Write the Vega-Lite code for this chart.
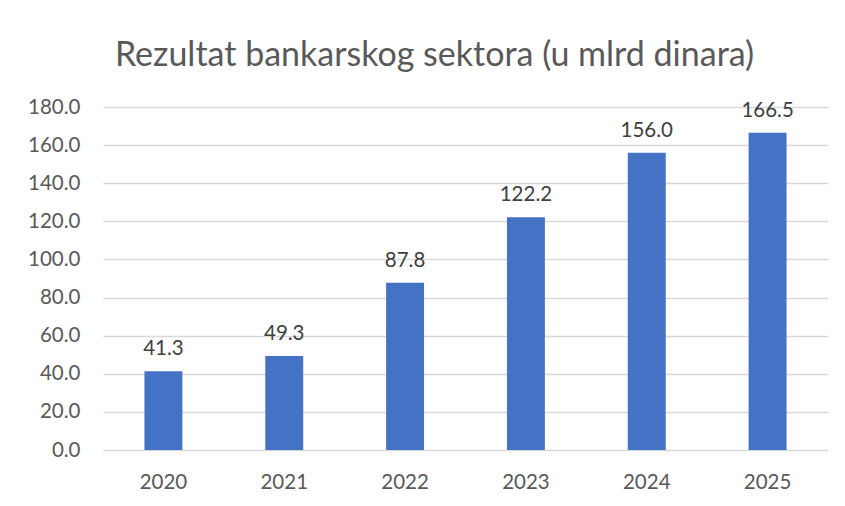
{
  "$schema": "https://vega.github.io/schema/vega-lite/v6.json",
  "autosize": "none",
  "width": 725,
  "height": 343,
  "padding": {"left": 103, "top": 107, "right": 17, "bottom": 56},
  "background": "white",
  "title": {
    "text": "Rezultat bankarskog sektora (u mlrd dinara)",
    "font": "Lato",
    "fontSize": 34,
    "fontWeight": "normal",
    "color": "#595959",
    "anchor": "middle",
    "dx": -31,
    "offset": 24
  },
  "data": {
    "values": [
      {"year": "2020", "value": 41.3},
      {"year": "2021", "value": 49.3},
      {"year": "2022", "value": 87.8},
      {"year": "2023", "value": 122.2},
      {"year": "2024", "value": 156.0},
      {"year": "2025", "value": 166.5}
    ]
  },
  "encoding": {
    "x": {
      "field": "year",
      "type": "nominal",
      "title": null,
      "scale": {"paddingInner": 0.686, "paddingOuter": 0.343},
      "axis": {
        "labelAngle": 0,
        "domain": false,
        "ticks": false,
        "labelPadding": 22,
        "labelFont": "Lato",
        "labelFontSize": 20.5,
        "labelColor": "#595959"
      }
    },
    "y": {
      "field": "value",
      "type": "quantitative",
      "title": null,
      "scale": {"domain": [0, 180]},
      "axis": {
        "values": [0, 20, 40, 60, 80, 100, 120, 140, 160, 180],
        "format": ".1f",
        "domain": false,
        "ticks": false,
        "labelPadding": 23,
        "labelFont": "Lato",
        "labelFontSize": 20.5,
        "labelColor": "#595959",
        "gridColor": "#d9d9d9",
        "gridWidth": 1.5
      }
    }
  },
  "layer": [
    {"mark": {"type": "bar", "color": "#4472c4"}},
    {
      "mark": {"type": "text", "baseline": "bottom", "dy": -12, "font": "Lato", "fontSize": 20.5, "color": "#404040"},
      "encoding": {"text": {"field": "value", "type": "quantitative", "format": ".1f"}}
    }
  ],
  "config": {"view": {"stroke": null}}
}
